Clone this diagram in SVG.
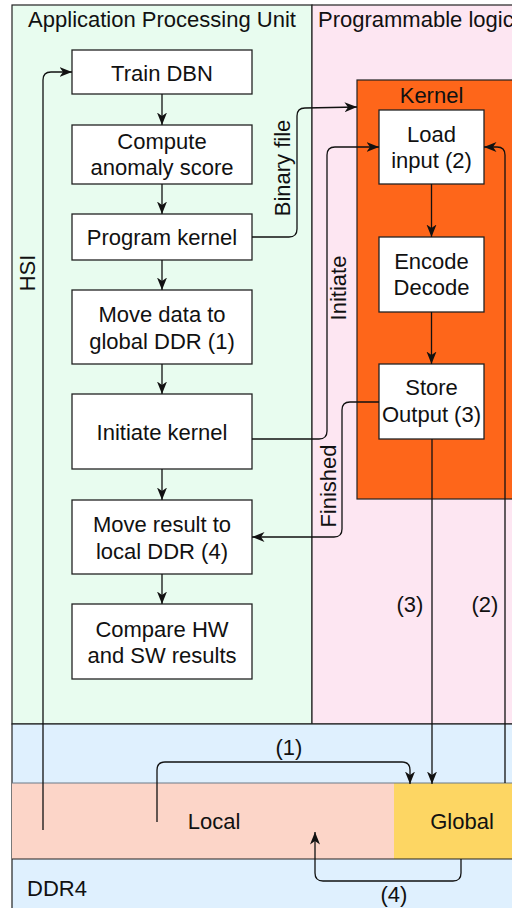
<svg xmlns="http://www.w3.org/2000/svg" width="512" height="908" viewBox="0 0 512 908">
  <style>
    text { font-family: "Liberation Sans", Arial, sans-serif; font-size: 22px; fill: #111; }
    .c { text-anchor: middle; }
    .zone { stroke: #222; stroke-width: 1.2; }
    .box { fill: #fff; stroke: #222; stroke-width: 1.3; }
    .arr { fill: none; stroke: #111; stroke-width: 1.3; marker-end: url(#head); }
  </style>
  <defs>
    <marker id="head" markerUnits="userSpaceOnUse" markerWidth="14" markerHeight="12" refX="12.5" refY="6" orient="auto">
      <path d="M0,1 L12.5,6 L0,11 L3.5,6 Z" fill="#111"/>
    </marker>
  </defs>

  <!-- containers -->
  <g id="apu">
    <rect class="zone" x="12" y="5" width="300" height="719" fill="#e8fcef"/>
    <text class="c" x="162" y="27">Application Processing Unit</text>
  </g>
  <g id="pl">
    <rect class="zone" x="312" y="5" width="220" height="719" fill="#fde6f2"/>
    <text x="318" y="27">Programmable logic</text>
  </g>
  <g id="ddr4">
    <rect class="zone" x="12" y="724" width="520" height="200" fill="#dff0fe"/>
    <text x="27" y="896">DDR4</text>
  </g>
  <g id="local">
    <rect x="12" y="783" width="382" height="76" fill="#fcd5c8"/>
    <text class="c" x="214" y="829">Local</text>
  </g>
  <g id="global">
    <rect x="394" y="783" width="130" height="76" fill="#fdd663"/>
    <text class="c" x="462" y="829">Global</text>
  </g>
  <line x1="12" y1="783" x2="512" y2="783" stroke="#6b7b88" stroke-width="1"/>
  <line x1="12" y1="859" x2="512" y2="859" stroke="#222" stroke-width="1.2"/>

  <g id="kernel">
    <rect class="zone" x="357" y="80" width="200" height="419" fill="#fe661a"/>
    <text class="c" x="431.5" y="102.5">Kernel</text>
  </g>

  <!-- host-side steps -->
  <g id="train-dbn">
    <rect class="box" x="72" y="50" width="180" height="44"/>
    <text class="c" x="162" y="81">Train DBN</text>
  </g>
  <g id="compute-score">
    <rect class="box" x="72" y="125" width="180" height="59"/>
    <text class="c" x="162" y="148.5">Compute</text>
    <text class="c" x="162" y="175">anomaly score</text>
  </g>
  <g id="program-kernel">
    <rect class="box" x="72" y="214" width="180" height="46"/>
    <text class="c" x="162" y="245">Program kernel</text>
  </g>
  <g id="move-data">
    <rect class="box" x="72" y="290" width="180" height="74"/>
    <text class="c" x="162" y="321.5">Move data to</text>
    <text class="c" x="162" y="348.5">global DDR (1)</text>
  </g>
  <g id="initiate-kernel">
    <rect class="box" x="72" y="394" width="180" height="75"/>
    <text class="c" x="162" y="440">Initiate kernel</text>
  </g>
  <g id="move-result">
    <rect class="box" x="72" y="500" width="180" height="74"/>
    <text class="c" x="162" y="531.5">Move result to</text>
    <text class="c" x="162" y="559">local DDR (4)</text>
  </g>
  <g id="compare">
    <rect class="box" x="72" y="604" width="180" height="75"/>
    <text class="c" x="162" y="636.5">Compare HW</text>
    <text class="c" x="162" y="663">and SW results</text>
  </g>

  <!-- kernel stages -->
  <g id="load-input">
    <rect class="box" x="379" y="110" width="105" height="74"/>
    <text class="c" x="431.5" y="141.5">Load</text>
    <text class="c" x="431.5" y="168">input (2)</text>
  </g>
  <g id="encode-decode">
    <rect class="box" x="379" y="237" width="105" height="75"/>
    <text class="c" x="431.5" y="268.5">Encode</text>
    <text class="c" x="431.5" y="295">Decode</text>
  </g>
  <g id="store-output">
    <rect class="box" x="379" y="364" width="105" height="75"/>
    <text class="c" x="431.5" y="395">Store</text>
    <text class="c" x="431.5" y="421.5">Output (3)</text>
  </g>

  <!-- connectors -->
  <g id="connectors">
    <path class="arr" d="M162,94 V125"/>
    <path class="arr" d="M162,184 V214"/>
    <path class="arr" d="M162,260 V290"/>
    <path class="arr" d="M162,364 V394"/>
    <path class="arr" d="M162,469 V500"/>
    <path class="arr" d="M162,574 V604"/>
    <path class="arr" d="M431.5,184 V237"/>
    <path class="arr" d="M431.5,312 V364"/>

    <!-- HSI feed -->
    <path class="arr" d="M43,830 V80 Q43,72 51,72 H72"/>
    <!-- binary file -->
    <path class="arr" d="M252,237 H289 Q297,237 297,229 V116 Q297,108 305,108 L357,107"/>
    <!-- initiate -->
    <path class="arr" d="M252,439 H319 Q327,439 327,431 V155 Q327,147 335,147 H379"/>
    <!-- finished -->
    <path class="arr" d="M379,402 H350 Q342,402 342,410 V529 Q342,537 334,537 H252"/>
    <!-- (2) global to load input -->
    <path class="arr" d="M505,783 V155 Q505,147 497,147 H484"/>
    <!-- (3) store output to global -->
    <path class="arr" d="M432,439 V784"/>
    <!-- (1) local to global -->
    <path class="arr" d="M157,822 V770 Q157,762 165,762 H402 Q410,762 410,770 V784"/>
    <!-- (4) global to local -->
    <path class="arr" d="M461,859 V873 Q461,881 453,881 H323 Q315,881 315,873 V832"/>

    <text class="c" transform="translate(35,273) rotate(-90)">HSI</text>
    <text class="c" transform="translate(290,168) rotate(-90)">Binary file</text>
    <text class="c" transform="translate(346,288) rotate(-90)">Initiate</text>
    <text class="c" transform="translate(336,486) rotate(-90)">Finished</text>
    <text class="c" x="289" y="755">(1)</text>
    <text class="c" x="410" y="612">(3)</text>
    <text class="c" x="485" y="612">(2)</text>
    <text class="c" x="394" y="902">(4)</text>
  </g>
</svg>
